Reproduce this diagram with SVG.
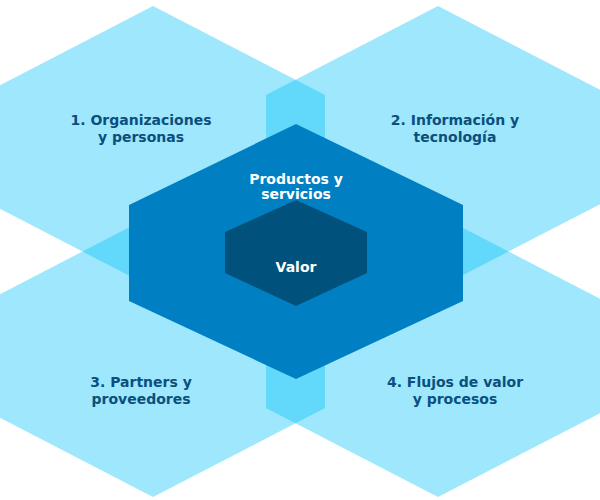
<svg xmlns="http://www.w3.org/2000/svg" width="600" height="500" viewBox="0 0 600 500">
  <style>
    .outer { fill: #00c0f6; fill-opacity: 0.38; }
    .mid { fill: #0080c3; }
    .inner { fill: #00527c; }
    .lbl { font-family: "DejaVu Sans", Verdana, sans-serif; font-weight: bold; font-size: 14px; text-anchor: middle; fill: #0b4f7c; }
    .wlbl { font-family: "DejaVu Sans", Verdana, sans-serif; font-weight: bold; font-size: 14px; text-anchor: middle; fill: #ffffff; }
  </style>
  <rect width="600" height="500" fill="#ffffff"/>
  <g id="hex1">
    <polygon class="outer" points="153,6 325,95 325,199 153,288 -19,199 -19,95"/>
    <text class="lbl" x="141" y="125">1. Organizaciones</text>
    <text class="lbl" x="141" y="142">y personas</text>
  </g>
  <g id="hex2">
    <polygon class="outer" points="438,6 610,95 610,199 438,288 266,199 266,95"/>
    <text class="lbl" x="455" y="125">2. Información y</text>
    <text class="lbl" x="455" y="142">tecnología</text>
  </g>
  <g id="hex3">
    <polygon class="outer" points="153,215 325,304 325,408 153,497 -19,408 -19,304"/>
    <text class="lbl" x="141" y="387">3. Partners y</text>
    <text class="lbl" x="141" y="404">proveedores</text>
  </g>
  <g id="hex4">
    <polygon class="outer" points="438,215 610,304 610,408 438,497 266,408 266,304"/>
    <text class="lbl" x="455" y="387">4. Flujos de valor</text>
    <text class="lbl" x="455" y="404">y procesos</text>
  </g>
  <g id="productos">
    <polygon class="mid" points="296,124 463,205 463,301 296,379 129,301 129,205"/>
    <text class="wlbl" x="296" y="184">Productos y</text>
    <text class="wlbl" x="296" y="199">servicios</text>
  </g>
  <g id="valor">
    <polygon class="inner" points="296,200 367,232 367,273 296,306 225,273 225,232"/>
    <text class="wlbl" x="296" y="272">Valor</text>
  </g>
</svg>
